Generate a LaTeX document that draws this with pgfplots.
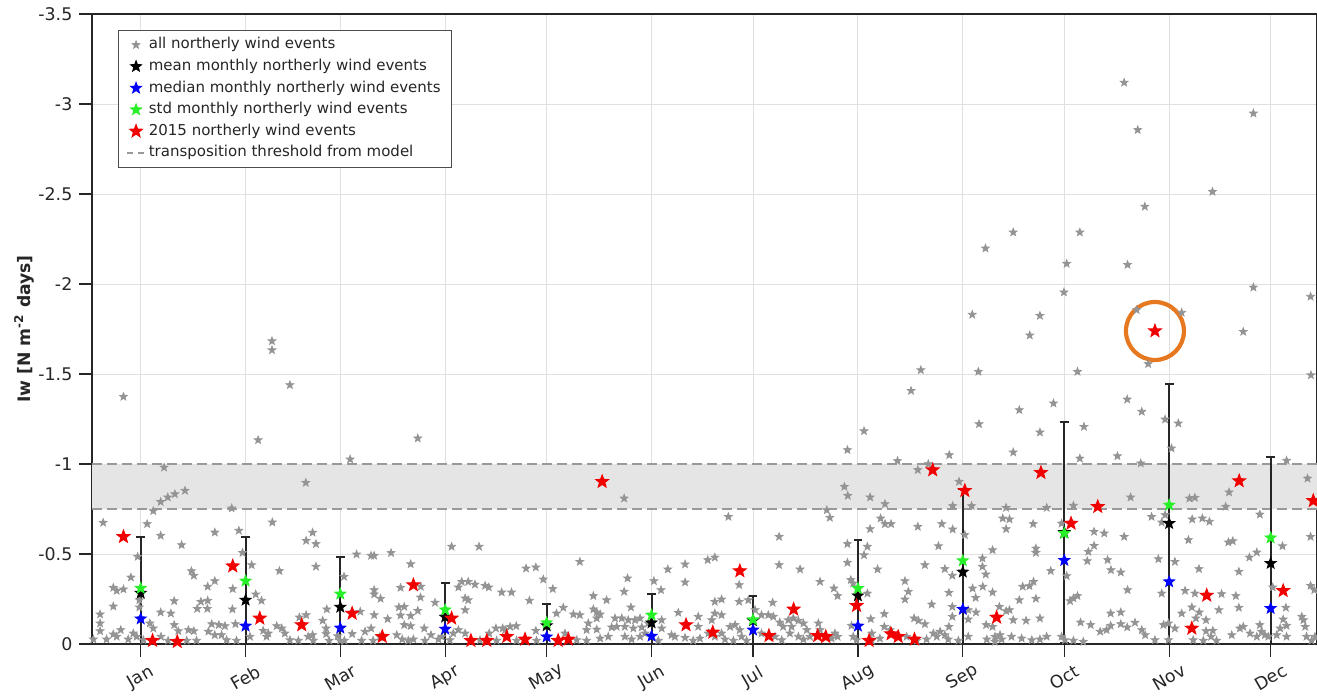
\documentclass[border=0pt]{standalone}
\usepackage{pgfplots}
\usepackage{pgfplotstable}
\pgfplotsset{compat=1.18}
\usepackage{fontspec}
\setmainfont{DejaVu Sans}
\definecolor{circ}{RGB}{230,120,32}
\definecolor{sgreen}{RGB}{40,240,40}
\pgfdeclareplotmark{pstar}{%
 \pgfpathmoveto{\pgfpointpolar{90}{\pgfplotmarksize}}%
 \pgfpathlineto{\pgfpointpolar{126}{0.42\pgfplotmarksize}}%
 \pgfpathlineto{\pgfpointpolar{162}{\pgfplotmarksize}}%
 \pgfpathlineto{\pgfpointpolar{198}{0.42\pgfplotmarksize}}%
 \pgfpathlineto{\pgfpointpolar{234}{\pgfplotmarksize}}%
 \pgfpathlineto{\pgfpointpolar{270}{0.42\pgfplotmarksize}}%
 \pgfpathlineto{\pgfpointpolar{306}{\pgfplotmarksize}}%
 \pgfpathlineto{\pgfpointpolar{342}{0.42\pgfplotmarksize}}%
 \pgfpathlineto{\pgfpointpolar{18}{\pgfplotmarksize}}%
 \pgfpathlineto{\pgfpointpolar{54}{0.42\pgfplotmarksize}}%
 \pgfpathclose
 \pgfusepathqfillstroke}

\pgfplotstableread{
d v
9.9 -1.374
49.7 -1.133
21.9 -0.981
28.1 -0.852
25.1 -0.833
23.0 -0.815
20.9 -0.790
18.7 -0.739
41.9 -0.754
3.9 -0.674
16.9 -0.667
20.9 -0.602
36.9 -0.620
44.0 -0.630
27.1 -0.550
45.1 -0.507
14.1 -0.485
47.8 -0.439
30.0 -0.405
30.7 -0.380
12.1 -0.370
36.9 -0.350
34.8 -0.319
6.9 -0.313
7.9 -0.296
9.9 -0.304
42.2 -0.306
49.0 -0.276
50.7 -0.241
32.8 -0.235
34.8 -0.241
24.9 -0.239
6.9 -0.209
31.7 -0.196
34.7 -0.196
42.1 -0.193
14.6 -0.204
20.9 -0.176
23.9 -0.170
3.0 -0.165
3.0 -0.115
3.0 -0.072
14.6 -0.244
17.7 -0.115
18.7 -0.087
24.9 -0.106
26.1 -0.072
29.1 -0.078
30.7 -0.072
36.0 -0.111
38.1 -0.106
39.9 -0.100
35.0 -0.069
36.9 -0.050
38.9 -0.050
43.0 -0.111
7.9 -0.041
6.9 -0.054
9.1 -0.078
4.9 -0.026
1.0 -0.026
11.3 -0.026
12.8 -0.059
13.8 -0.041
15.8 -0.022
21.0 -0.041
23.1 -0.019
31.5 -0.019
28.6 -0.019
40.4 -0.022
43.3 -0.019
47.3 -0.041
51.2 -0.074
52.2 -0.041
59.1 -1.439
53.8 -1.683
53.8 -1.633
96.9 -1.143
76.9 -1.026
63.8 -0.896
53.9 -0.676
65.8 -0.619
63.9 -0.574
66.8 -0.556
56.0 -0.406
66.8 -0.430
78.8 -0.498
83.1 -0.491
84.0 -0.491
89.0 -0.506
94.8 -0.444
75.1 -0.374
91.8 -0.313
97.8 -0.319
84.0 -0.300
84.0 -0.276
85.9 -0.252
97.7 -0.259
102.0 -0.230
70.0 -0.193
68.8 -0.130
63.9 -0.161
61.9 -0.148
84.0 -0.161
88.0 -0.139
91.3 -0.204
92.9 -0.207
91.8 -0.159
94.8 -0.157
96.9 -0.185
79.9 -0.180
92.9 -0.106
94.8 -0.100
98.8 -0.087
100.8 -0.050
55.2 -0.100
56.7 -0.087
57.6 -0.059
52.7 -0.059
59.1 -0.022
61.6 -0.019
64.5 -0.041
66.0 -0.019
65.8 -0.050
69.8 -0.087
69.8 -0.056
70.7 -0.019
73.2 -0.044
75.2 -0.019
73.9 -0.019
77.5 -0.056
81.3 -0.069
83.1 -0.087
80.3 -0.019
83.7 -0.019
85.7 -0.041
90.7 -0.050
92.3 -0.026
94.1 -0.019
95.6 -0.026
99.0 -0.019
103.0 -0.026
104.0 -0.041
106.9 -0.541
115.0 -0.541
128.9 -0.420
131.8 -0.426
144.8 -0.457
134.0 -0.359
136.8 -0.306
129.9 -0.241
108.9 -0.315
109.9 -0.346
111.8 -0.346
113.8 -0.331
116.8 -0.324
117.9 -0.315
121.7 -0.287
124.6 -0.287
110.9 -0.254
111.8 -0.244
110.9 -0.189
148.8 -0.267
152.7 -0.244
139.9 -0.202
137.9 -0.170
142.9 -0.165
144.8 -0.161
148.8 -0.193
149.8 -0.176
150.8 -0.165
149.8 -0.143
147.3 -0.115
149.8 -0.081
146.8 -0.078
155.2 -0.143
155.7 -0.096
154.2 -0.093
108.9 -0.078
110.9 -0.059
107.4 -0.059
118.0 -0.059
120.0 -0.087
122.0 -0.087
124.2 -0.096
126.0 -0.100
122.7 -0.078
131.8 -0.074
115.3 -0.022
120.2 -0.019
126.1 -0.019
132.0 -0.019
106.4 -0.022
143.9 -0.022
146.8 -0.019
150.8 -0.031
153.2 -0.041
140.4 -0.059
157.9 -0.809
188.7 -0.707
203.7 -0.596
203.7 -0.439
182.6 -0.467
184.7 -0.481
175.9 -0.443
170.8 -0.415
158.9 -0.365
166.7 -0.350
175.9 -0.343
157.9 -0.291
168.8 -0.300
159.9 -0.204
191.9 -0.328
184.7 -0.235
186.7 -0.248
191.9 -0.235
194.6 -0.244
201.8 -0.230
173.9 -0.174
184.7 -0.170
186.7 -0.161
183.8 -0.133
179.8 -0.152
179.8 -0.096
196.6 -0.189
198.5 -0.161
200.5 -0.161
202.0 -0.152
203.9 -0.120
204.9 -0.096
157.2 -0.143
159.1 -0.133
161.1 -0.133
162.6 -0.143
158.1 -0.096
160.6 -0.087
163.1 -0.093
165.0 -0.115
169.0 -0.133
169.0 -0.087
158.1 -0.041
160.1 -0.026
162.6 -0.041
164.1 -0.059
166.0 -0.041
168.0 -0.019
171.9 -0.050
172.9 -0.041
175.9 -0.035
178.3 -0.019
180.3 -0.031
182.8 -0.059
184.7 -0.041
186.7 -0.059
189.2 -0.096
190.7 -0.106
192.1 -0.078
187.7 -0.026
190.2 -0.019
192.6 -0.041
194.1 -0.019
198.5 -0.059
200.5 -0.041
202.5 -0.041
204.5 -0.022
206.9 -0.059
207.4 -0.096
206.4 -0.133
207.9 -0.143
245.6 -1.522
242.7 -1.407
228.8 -1.183
223.9 -1.078
254.0 -1.050
238.7 -1.017
244.7 -0.967
247.8 -1.000
223.0 -0.874
224.0 -0.824
230.6 -0.815
235.0 -0.778
256.9 -0.902
255.0 -0.767
217.8 -0.744
218.7 -0.702
233.7 -0.698
235.0 -0.667
236.8 -0.667
230.6 -0.639
244.7 -0.652
251.8 -0.667
255.0 -0.637
258.6 -0.606
250.8 -0.544
223.9 -0.556
229.8 -0.541
228.8 -0.494
223.9 -0.452
232.8 -0.415
209.9 -0.415
246.8 -0.439
252.7 -0.417
254.9 -0.380
215.8 -0.346
224.9 -0.356
225.6 -0.337
219.9 -0.309
221.0 -0.267
240.9 -0.350
241.9 -0.291
240.9 -0.248
229.8 -0.281
253.9 -0.285
248.8 -0.220
254.9 -0.207
234.8 -0.167
230.8 -0.139
225.1 -0.102
243.6 -0.143
244.9 -0.130
246.8 -0.111
254.9 -0.152
253.9 -0.096
251.3 -0.069
249.3 -0.059
252.7 -0.050
209.4 -0.130
210.9 -0.115
211.9 -0.078
212.8 -0.041
215.3 -0.115
215.8 -0.078
220.2 -0.059
221.0 -0.041
219.2 -0.031
209.4 -0.041
210.9 -0.026
225.6 -0.041
226.6 -0.022
231.1 -0.059
231.1 -0.019
233.5 -0.031
234.8 -0.096
236.5 -0.078
241.4 -0.041
244.4 -0.019
247.3 -0.026
250.3 -0.041
253.7 -0.026
256.7 -0.019
262.6 -1.513
291.9 -1.513
284.8 -1.337
274.7 -1.300
306.6 -1.359
310.9 -1.291
262.8 -1.222
293.8 -1.207
280.8 -1.176
272.9 -1.065
292.6 -1.031
303.7 -1.044
310.6 -1.004
307.6 -0.815
260.6 -0.767
270.8 -0.757
282.8 -0.757
290.7 -0.769
269.8 -0.698
271.8 -0.693
270.8 -0.639
278.8 -0.667
287.2 -0.670
296.8 -0.624
299.8 -0.615
305.7 -0.596
296.8 -0.546
295.1 -0.513
294.8 -0.461
266.8 -0.522
279.6 -0.531
279.6 -0.507
300.8 -0.467
301.8 -0.411
304.7 -0.398
263.8 -0.476
263.8 -0.430
264.8 -0.387
284.0 -0.406
288.7 -0.378
306.7 -0.300
260.9 -0.309
263.9 -0.319
261.8 -0.257
266.8 -0.287
275.7 -0.319
277.7 -0.322
278.9 -0.346
274.7 -0.244
279.6 -0.252
291.9 -0.267
290.7 -0.254
289.7 -0.239
259.6 -0.189
259.6 -0.137
261.9 -0.176
264.9 -0.106
266.8 -0.096
268.8 -0.207
270.8 -0.183
271.8 -0.189
272.9 -0.133
276.7 -0.130
280.8 -0.143
292.8 -0.120
295.8 -0.106
301.7 -0.170
304.7 -0.176
301.7 -0.102
304.7 -0.111
306.6 -0.093
308.9 -0.119
298.6 -0.069
300.5 -0.078
310.9 -0.078
259.6 -0.041
265.1 -0.026
267.5 -0.041
269.5 -0.026
272.4 -0.041
275.4 -0.031
278.4 -0.022
280.8 -0.026
282.8 -0.041
287.2 -0.041
288.2 -0.022
290.7 -0.019
293.6 -0.013
267.5 -0.013
269.0 -0.050
360.9 -1.494
317.8 -1.248
321.7 -1.226
319.7 -1.087
353.7 -1.019
359.9 -0.920
336.7 -0.843
325.0 -0.809
326.6 -0.813
335.7 -0.763
345.8 -0.720
313.8 -0.707
317.8 -0.717
316.8 -0.676
325.8 -0.693
328.8 -0.698
330.9 -0.680
324.7 -0.578
336.5 -0.565
337.8 -0.572
352.5 -0.544
360.8 -0.596
344.9 -0.509
342.7 -0.481
315.8 -0.472
320.7 -0.457
327.8 -0.417
339.6 -0.402
360.8 -0.324
361.9 -0.300
316.8 -0.281
323.7 -0.296
326.6 -0.281
334.5 -0.278
338.7 -0.267
349.6 -0.315
339.6 -0.202
333.7 -0.189
325.7 -0.204
327.9 -0.176
326.9 -0.143
329.9 -0.133
322.7 -0.170
353.5 -0.202
352.7 -0.137
353.7 -0.102
320.7 -0.087
317.3 -0.106
318.8 -0.115
311.9 -0.050
314.8 -0.022
318.8 -0.022
326.1 -0.022
329.1 -0.019
331.4 -0.041
333.0 -0.019
329.9 -0.072
331.9 -0.074
337.5 -0.050
339.9 -0.087
340.9 -0.096
342.9 -0.059
344.9 -0.041
346.3 -0.069
347.3 -0.050
348.3 -0.041
345.8 -0.106
350.8 -0.050
351.8 -0.087
353.7 -0.041
358.2 -0.152
358.7 -0.133
359.2 -0.096
359.6 -0.041
361.1 -0.019
362.1 -0.041
305.7 -3.119
343.9 -2.948
309.7 -2.856
331.8 -2.513
311.8 -2.430
272.9 -2.287
292.6 -2.287
264.7 -2.198
288.7 -2.113
306.7 -2.107
287.9 -1.954
343.9 -1.981
360.8 -1.930
260.8 -1.830
280.8 -1.824
277.8 -1.715
340.9 -1.735
322.7 -1.841
309.4 -1.856
312.8 -1.556
}\grayevents

\pgfplotstableread{
d v
9.9 -0.596
18.5 -0.019
25.8 -0.013
42.2 -0.433
50.2 -0.143
62.6 -0.106
77.5 -0.170
86.4 -0.041
95.6 -0.328
106.9 -0.143
112.6 -0.019
117.3 -0.019
123.2 -0.041
128.6 -0.026
138.4 -0.019
141.4 -0.026
151.4 -0.902
176.2 -0.106
184.1 -0.065
192.1 -0.406
200.7 -0.046
208.0 -0.193
215.1 -0.046
217.5 -0.041
226.6 -0.213
230.3 -0.019
236.8 -0.056
238.9 -0.041
243.7 -0.026
249.1 -0.967
258.6 -0.852
268.0 -0.148
281.1 -0.952
290.0 -0.670
297.9 -0.763
314.8 -1.739
325.7 -0.087
330.1 -0.270
339.7 -0.906
352.7 -0.296
361.6 -0.796
}\redevents

\pgfplotstableread{
d mean median std err
15 -0.283 -0.140 -0.310 0.310
46 -0.244 -0.100 -0.350 0.350
74 -0.205 -0.089 -0.278 0.278
105 -0.150 -0.083 -0.190 0.190
135 -0.102 -0.040 -0.118 0.118
166 -0.118 -0.044 -0.161 0.161
196 -0.130 -0.078 -0.135 0.135
227 -0.268 -0.100 -0.309 0.309
258 -0.400 -0.193 -0.463 0.463
288 -0.620 -0.465 -0.615 0.615
319 -0.670 -0.346 -0.772 0.772
349 -0.448 -0.198 -0.590 0.590
}\stats

\begin{document}
\begin{tikzpicture}
\begin{axis}[
  scale only axis, width=612.5pt, height=315pt,
  xmin=0.6, xmax=362.7, ymin=-3.5, ymax=0, y dir=reverse,
  xtick={15,46,74,105,135,166,196,227,258,288,319,349},
  xticklabels={Jan,Feb,Mar,Apr,May,Jun,Jul,Aug,Sep,Oct,Nov,Dec},
  ytick={-3.5,-3,-2.5,-2,-1.5,-1,-0.5,0},
  yticklabels={-3.5,-3,-2.5,-2,-1.5,-1,-0.5,0},
  xtick pos=lower, ytick pos=left,
  tick align=outside, major tick length=6.3pt,
  grid=major, major grid style={color=black!12, line width=0.5pt},
  axis line style={color=black!85, line width=0.6pt},
  tick style={color=black!85, line width=0.6pt},
  ticklabel style={font=\fontsize{8.7}{10}\selectfont, color=black!85},
  xticklabel style={anchor=center, yshift=-10.5pt, rotate=30},
  ylabel={\bfseries Iw [N m\textsuperscript{-2} days]},
  every axis y label/.style={at={(axis description cs:-0.0553,0.5)}, rotate=90, anchor=center, font=\fontsize{8.6}{10}\selectfont, color=black!85},
  legend style={at={(axis description cs:0.0212,0.9746)}, anchor=north west, draw=black!70, line width=0.5pt, fill=white, font=\fontsize{7.5}{8.5}\selectfont, text=black!85, cells={anchor=west}, inner xsep=4pt, inner ysep=2pt, row sep=0.4pt, nodes={inner sep=1.6pt, text height=5.6pt, text depth=1.6pt}},
  legend image code/.code={\draw[mark repeat=2,mark phase=2,#1] plot coordinates {(0pt,0pt) (4.5pt,0pt) (9pt,0pt)};},
]
\addplot[forget plot, fill=black!10, draw=none] coordinates {(0.6,-0.75) (362.7,-0.75) (362.7,-1.0) (0.6,-1.0)} -- cycle;
\addplot[forget plot, color=black!40, line width=0.6pt, dash pattern=on 5pt off 2.5pt] coordinates {(0.6,-0.75) (362.7,-0.75)};
\addplot[forget plot, color=black!40, line width=0.6pt, dash pattern=on 5pt off 2.5pt] coordinates {(0.6,-1.0) (362.7,-1.0)};

\addplot[only marks, mark=pstar, mark size=2.0pt, color=black!42, mark options={line width=0.4pt}] table[x=d, y=v] {\grayevents};
\addlegendentry{all northerly wind events}

\addplot[forget plot, draw=none, mark=none, error bars/.cd, y dir=both, y explicit,
  error bar style={draw=black!85, solid, line width=1pt},
  error mark options={rotate=90, mark size=2.2pt, draw=black!85, line width=1pt}]
  table[x=d, y=mean, y error=err] {\stats};

\addplot[only marks, mark=pstar, mark size=2.8pt, color=black, mark options={line width=0.5pt}] table[x=d, y=mean] {\stats};
\addlegendentry{mean monthly northerly wind events}
\addplot[only marks, mark=pstar, mark size=2.8pt, color=blue, mark options={line width=0.5pt}] table[x=d, y=median] {\stats};
\addlegendentry{median monthly northerly wind events}
\addplot[only marks, mark=pstar, mark size=2.8pt, color=sgreen, mark options={line width=0.5pt}] table[x=d, y=std] {\stats};
\addlegendentry{std monthly northerly wind events}
\addplot[only marks, mark=pstar, mark size=3.3pt, color=red!95!black, mark options={line width=0.5pt}] table[x=d, y=v] {\redevents};
\addlegendentry{2015 northerly wind events}
\addlegendimage{color=black!40, line width=0.6pt, dash pattern=on 3pt off 2.5pt}
\addlegendentry{transposition threshold from model}

\draw[circ, line width=2.1pt] (axis cs:314.8,-1.739) circle [radius=14.5pt];
\end{axis}
\pgfresetboundingbox
\path[use as bounding box] (-46pt,-26pt) rectangle (612.5pt,322pt);
\end{tikzpicture}
\end{document}
